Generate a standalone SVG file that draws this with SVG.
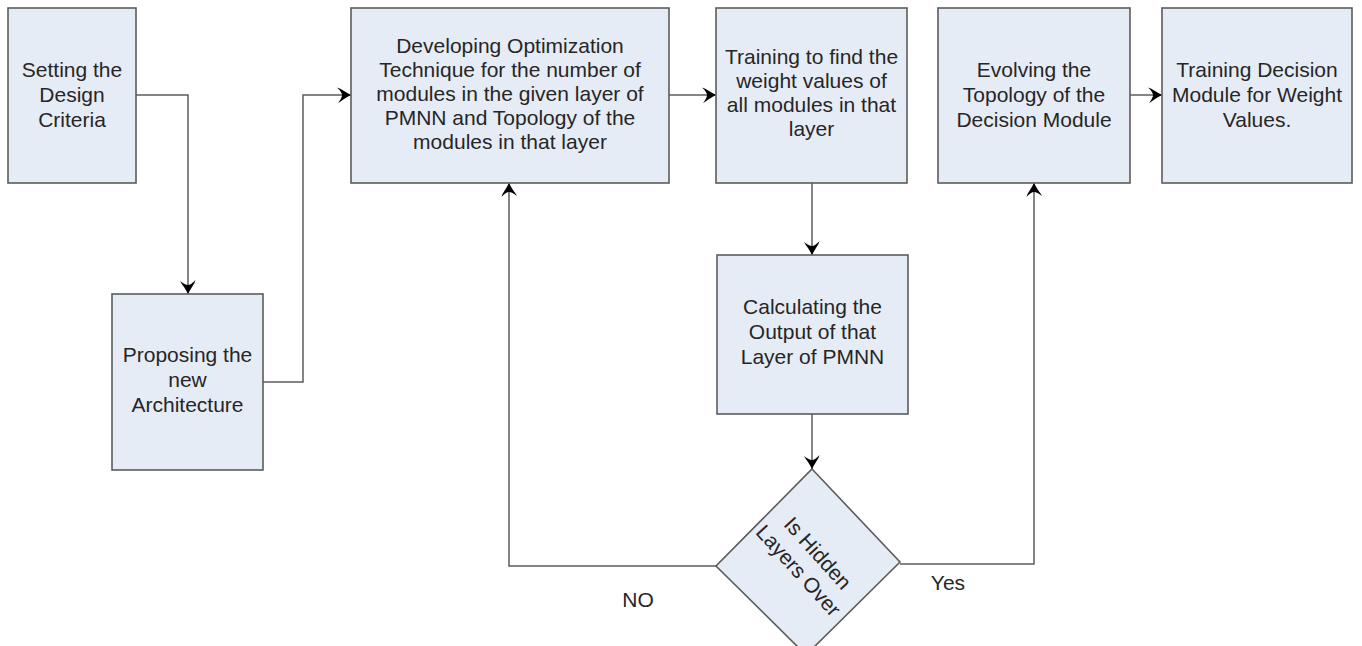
<svg xmlns="http://www.w3.org/2000/svg" width="1362" height="646" viewBox="0 0 1362 646">
  <style>
    .box { fill: #e6ecf6; stroke: #5c5c5c; stroke-width: 1.6; }
    .lbl { font-family: "Liberation Sans", Arial, sans-serif; font-size: 21px; fill: #262626; text-anchor: middle; }
    .wire { fill: none; stroke: #5c5c5c; stroke-width: 1.5; }
    .arrow { marker-end: url(#head); }
  </style>
  <defs>
    <!-- curved, swept-back arrowhead -->
    <marker id="head" markerUnits="userSpaceOnUse" markerWidth="18" markerHeight="18" refX="14" refY="8" orient="auto">
      <path d="M0,0.5 Q3,1 7,4 Q11,6.5 14,8 Q11,9.5 7,12 Q3,15 1,16 Q5,11 5,8 Q5,5 0,0.5 Z" fill="#000"/>
    </marker>
  </defs>

  <rect width="1362" height="646" fill="#ffffff"/>

  <!-- connectors -->
  <g id="connectors">
    <path class="wire arrow" d="M136,95 H188 V294"/>
    <path class="wire arrow" d="M263,382 H303 V95 H351"/>
    <path class="wire arrow" d="M669,95 H716"/>
    <path class="wire arrow" d="M812,183 V255"/>
    <path class="wire arrow" d="M812,414 V469"/>
    <path class="wire arrow" d="M716,566 H509 V183"/>
    <path class="wire arrow" d="M900,564 H1034 V183"/>
    <path class="wire arrow" d="M1130,95 H1162"/>
    <text class="lbl" x="638" y="607">NO</text>
    <text class="lbl" x="948" y="590">Yes</text>
  </g>

  <g id="design-criteria">
    <rect class="box" x="8" y="8" width="128" height="175"/>
    <text class="lbl" x="72" y="77">Setting the</text>
    <text class="lbl" x="72" y="102">Design</text>
    <text class="lbl" x="72" y="127">Criteria</text>
  </g>

  <g id="new-architecture">
    <rect class="box" x="112" y="294" width="151" height="176"/>
    <text class="lbl" x="187.5" y="362">Proposing the</text>
    <text class="lbl" x="187.5" y="387">new</text>
    <text class="lbl" x="187.5" y="412">Architecture</text>
  </g>

  <g id="optimization">
    <rect class="box" x="351" y="8" width="318" height="175"/>
    <text class="lbl" x="510" y="53">Developing Optimization</text>
    <text class="lbl" x="510" y="77">Technique for the number of</text>
    <text class="lbl" x="510" y="101">modules in the given layer of</text>
    <text class="lbl" x="510" y="125">PMNN and Topology of the</text>
    <text class="lbl" x="510" y="149">modules in that layer</text>
  </g>

  <g id="weight-training">
    <rect class="box" x="716" y="8" width="191" height="175"/>
    <text class="lbl" x="811.5" y="64">Training to find the</text>
    <text class="lbl" x="811.5" y="88">weight values of</text>
    <text class="lbl" x="811.5" y="112">all modules in that</text>
    <text class="lbl" x="811.5" y="136">layer</text>
  </g>

  <g id="layer-output">
    <rect class="box" x="717" y="255" width="191" height="159"/>
    <text class="lbl" x="812.5" y="314">Calculating the</text>
    <text class="lbl" x="812.5" y="339">Output of that</text>
    <text class="lbl" x="812.5" y="364">Layer of PMNN</text>
  </g>

  <g id="hidden-layers-check">
    <polygon class="box" points="812,469 900,562 806,655 716,566"/>
    <g transform="translate(808,562) rotate(48)">
      <text class="lbl" x="0" y="-6">Is Hidden</text>
      <text class="lbl" x="0" y="20">Layers Over</text>
    </g>
  </g>

  <g id="decision-topology">
    <rect class="box" x="938" y="8" width="192" height="175"/>
    <text class="lbl" x="1034" y="77">Evolving the</text>
    <text class="lbl" x="1034" y="102">Topology of the</text>
    <text class="lbl" x="1034" y="127">Decision Module</text>
  </g>

  <g id="decision-training">
    <rect class="box" x="1162" y="8" width="190" height="175"/>
    <text class="lbl" x="1257" y="77">Training Decision</text>
    <text class="lbl" x="1257" y="102">Module for Weight</text>
    <text class="lbl" x="1257" y="127">Values.</text>
  </g>
</svg>
